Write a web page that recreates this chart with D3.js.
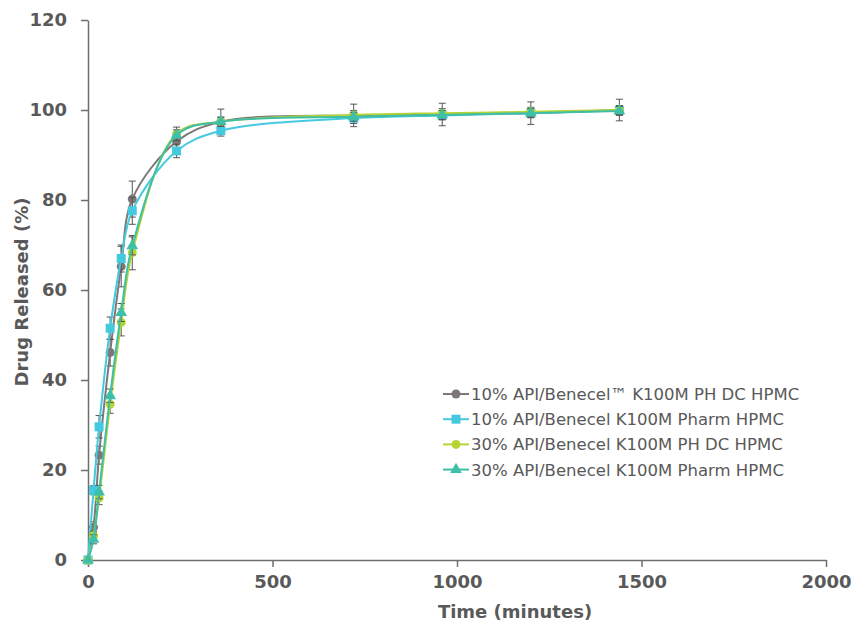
<!DOCTYPE html>
<html>
<head>
<meta charset="utf-8">
<script src="https://cdn.jsdelivr.net/npm/d3@7"></script>
<style>
  body { margin: 0; background: #fff; }
  svg text { font-family: "DejaVu Sans", sans-serif; fill: #595959; }
</style>
</head>
<body>
<script>
// sampling times (minutes)
var time = [0, 15, 30, 60, 90, 120, 240, 360, 720, 960, 1200, 1440];

// drug released (%) per formulation
var dc10 = [0, 7.3, 23.3, 46.1, 65.2, 80.2, 93.0, 97.4, 98.8, 99.0, 99.3, 100.0];
var ph10 = [0, 15.5, 29.6, 51.5, 67.0, 77.6, 90.9, 95.4, 98.2, 98.8, 99.3, 99.9];
var dc30 = [0, 5.4, 13.8, 34.6, 52.8, 68.3, 94.7, 97.4, 98.9, 99.3, 99.6, 100.0];
var ph30 = [0, 4.6, 15.1, 36.5, 55.0, 69.8, 94.4, 97.4, 98.5, 98.9, 99.3, 99.8];

// standard deviations
var dc10Err = [0, 1.2, 2.0, 3.0, 4.5, 4.0, 2.0, 2.8, 2.5, 2.5, 2.5, 2.4];
var ph10Err = [0, 1.0, 2.5, 2.5, 3.0, 3.0, 1.5, 1.2, 1.2, 1.0, 1.0, 1.0];
var dc30Err = [0, 1.0, 1.5, 2.0, 3.0, 3.8, 1.5, 1.0, 1.0, 1.0, 1.0, 1.0];
var ph30Err = [0, 1.0, 1.5, 1.5, 2.0, 2.0, 1.2, 1.0, 1.0, 1.0, 1.0, 1.0];

var seriesNames = [
  "10% API/Benecel\u2122 K100M PH DC HPMC",
  "10% API/Benecel K100M Pharm HPMC",
  "30% API/Benecel K100M PH DC HPMC",
  "30% API/Benecel K100M Pharm HPMC"
];
var seriesColors = ["#7d7877", "#45c9df", "#b6d334", "#3ebfa8"];
var seriesMarkers = ["circle", "square", "circle", "triangle"];

var xTicks = [0, 500, 1000, 1500, 2000];
var yTicks = [0, 20, 40, 60, 80, 100, 120];

var width = 852, height = 624;

var svg = d3.select("body").append("svg")
  .attr("width", width)
  .attr("height", height);

var x = d3.scaleLinear().domain([0, 2000]).range([88, 826]);
var y = d3.scaleLinear().domain([0, 120]).range([560, 20]);

// оси
var xAxis = svg.append("g")
  .attr("transform", "translate(0,560)")
  .call(d3.axisBottom(x).tickValues(xTicks).tickFormat(d3.format("d"))
    .tickSize(7).tickPadding(8).tickSizeOuter(0));
var yAxis = svg.append("g")
  .attr("transform", "translate(88,0)")
  .call(d3.axisLeft(y).tickValues(yTicks).tickFormat(d3.format("d"))
    .tickSize(7).tickPadding(14).tickSizeOuter(0));

[xAxis, yAxis].forEach(function (a) {
  a.select(".domain").attr("stroke", "#6e6e6e").attr("stroke-width", 1.5);
  a.selectAll(".tick line").attr("stroke", "#6e6e6e").attr("stroke-width", 1.5);
  a.selectAll(".tick text")
    .style("font-family", "DejaVu Sans, sans-serif")
    .style("font-size", "18px")
    .style("font-weight", "bold")
    .attr("fill", "#595959");
});

// подписи осей
svg.append("text")
  .attr("x", 515).attr("y", 618)
  .attr("text-anchor", "middle")
  .style("font-size", "18px").style("font-weight", "bold")
  .text("Time (minutes)");

svg.append("text")
  .attr("transform", "translate(28,292) rotate(-90)")
  .attr("text-anchor", "middle")
  .style("font-size", "18px").style("font-weight", "bold")
  .text("Drug Released (%)");

var series = [
  { name: seriesNames[0], values: dc10, err: dc10Err },
  { name: seriesNames[1], values: ph10, err: ph10Err },
  { name: seriesNames[2], values: dc30, err: dc30Err },
  { name: seriesNames[3], values: ph30, err: ph30Err }
];

var line = d3.line()
  .x(function (d) { return x(d.t); })
  .y(function (d) { return y(d.v); })
  .curve(d3.curveCatmullRom.alpha(0.5));

function drawMarker(g, kind, color) {
  if (kind == "circle") {
    g.append("circle").attr("r", 4.5).attr("fill", color);
  } else if (kind == "square") {
    g.append("rect").attr("x", -4.5).attr("y", -4.5).attr("width", 9).attr("height", 9).attr("fill", color);
  } else {
    g.append("path").attr("d", d3.symbol().type(d3.symbolTriangle).size(60)()).attr("fill", color);
  }
}

series.forEach(function (s, i) {
  var pts = time.map(function (t, k) { return { t: t, v: s.values[k], e: s.err[k] }; });
  var g = svg.append("g");

  // error bars
  var eb = g.selectAll(".eb").data(pts.filter(function (d) { return d.e > 0; })).join("g");
  eb.append("line")
    .attr("x1", function (d) { return x(d.t); }).attr("x2", function (d) { return x(d.t); })
    .attr("y1", function (d) { return y(d.v - d.e); }).attr("y2", function (d) { return y(d.v + d.e); })
    .attr("stroke", "#555").attr("stroke-width", 1);
  [-1, 1].forEach(function (sgn) {
    eb.append("line")
      .attr("x1", function (d) { return x(d.t) - 3.5; }).attr("x2", function (d) { return x(d.t) + 3.5; })
      .attr("y1", function (d) { return y(d.v + sgn * d.e); }).attr("y2", function (d) { return y(d.v + sgn * d.e); })
      .attr("stroke", "#555").attr("stroke-width", 1);
  });

  g.append("path")
    .datum(pts)
    .attr("d", line)
    .attr("fill", "none")
    .attr("stroke", seriesColors[i])
    .attr("stroke-width", 2);

  pts.forEach(function (d) {
    var m = g.append("g").attr("transform", "translate(" + x(d.t) + "," + y(d.v) + ")");
    drawMarker(m, seriesMarkers[i], seriesColors[i]);
  });
});

// легенда
var legend = svg.append("g");
seriesNames.forEach(function (name, i) {
  var ly = 394 + i * 25.2;
  legend.append("line")
    .attr("x1", 443).attr("x2", 469).attr("y1", ly).attr("y2", ly)
    .attr("stroke", seriesColors[i]).attr("stroke-width", 2);
  var m = legend.append("g").attr("transform", "translate(456," + ly + ")");
  drawMarker(m, seriesMarkers[i], seriesColors[i]);
  legend.append("text")
    .attr("x", 471).attr("y", ly + 6)
    .style("font-size", "16.5px")
    .text(name);
});
</script>
</body>
</html>
